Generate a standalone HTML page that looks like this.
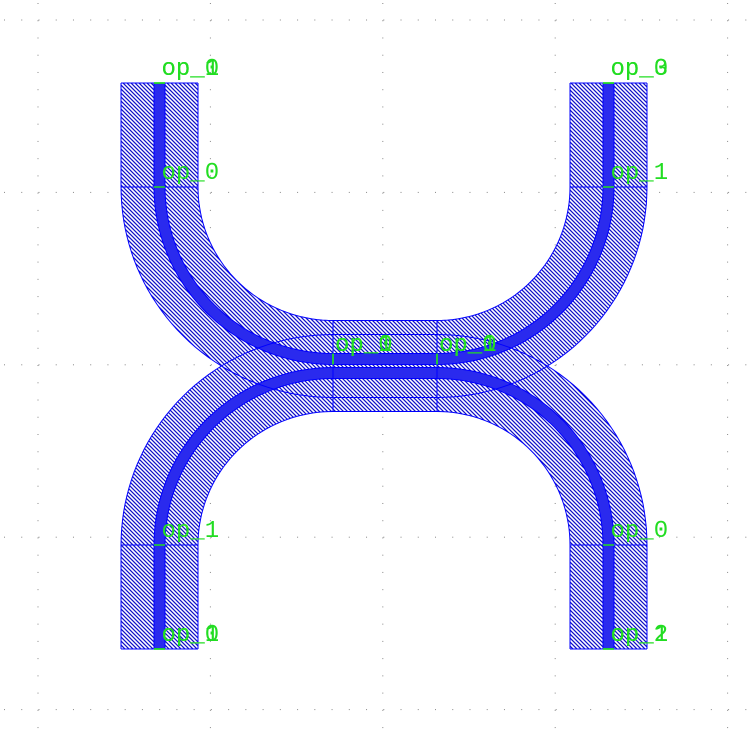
<!DOCTYPE html>
<html><head><meta charset="utf-8"><style>
html,body{margin:0;padding:0;background:#fff;}
svg{display:block;}
text{font-family:"Liberation Mono",monospace;font-size:24px;fill:#22dd22;}
</style></head><body>
<svg id="chart" width="752" height="742" viewBox="0 0 752 742" xmlns="http://www.w3.org/2000/svg">
<defs>
<pattern id="hatch" width="4" height="4" patternUnits="userSpaceOnUse">
<rect width="4" height="4" fill="#fff"/>
<path d="M-1,-1 L5,5 M-1,3 L1,5 M3,-1 L5,1" stroke="#1010c8" stroke-width="1.25"/>
</pattern>
</defs>
<g id="grid"></g>
<g id="clad"></g>
<g id="core"></g>
<g id="lines"></g>
<g id="labels"></g>
</svg>
<script>
const NS="http://www.w3.org/2000/svg";
const xL=159.5, xR=608.5, cx0=333, cx1=437;
const yTop=83, yB1=187, yUp=359, yLo=373, yB2=545, yBot=649;
const hw=38.5, cw=5.5;
const portLabels=[
 [xL,yTop,"op_1"],[xL,yTop,"op_0"],[xL,yB1,"op_0"],
 [xR,yTop,"op_0"],[xR,yTop,"op_3"],[xR,yB1,"op_1"],
 [cx0,yUp,"op_1"],[cx0,yUp,"op_0"],[cx1,yUp,"op_1"],[cx1,yUp,"op_0"],
 [xL,yB2,"op_1"],[xL,yBot,"op_0"],[xL,yBot,"op_1"],
 [xR,yB2,"op_0"],[xR,yBot,"op_1"],[xR,yBot,"op_2"]];
function el(t,a,p){const e=document.createElementNS(NS,t);for(const k in a)e.setAttribute(k,a[k]);p.appendChild(e);return e;}
const grid=document.getElementById('grid');
for(let i=0;i<5;i++){const g=20+172.4*i;
 for(let k=0;k<44;k++){const p=k*17.24;
  el('rect',{x:p+4,y:g-0.5,width:1,height:1,fill:'#888'},grid);
  el('rect',{x:38+172.4*i-0.5,y:p+3,width:1,height:1,fill:'#888'},grid);
 }}
const r=cx0-xL;
const paths=[
 `M${xL},${yTop} L${xL},${yB1} A${r},${yUp-yB1} 0 0 0 ${cx0},${yUp} L${cx1},${yUp} A${xR-cx1},${yUp-yB1} 0 0 0 ${xR},${yB1} L${xR},${yTop}`,
 `M${xL},${yBot} L${xL},${yB2} A${r},${yB2-yLo} 0 0 1 ${cx0},${yLo} L${cx1},${yLo} A${xR-cx1},${yB2-yLo} 0 0 1 ${xR},${yB2} L${xR},${yBot}`];
const clad=document.getElementById('clad'),core=document.getElementById('core'),lines=document.getElementById('lines');
paths.forEach((d,i)=>{
 const c=el('path',{d:d,fill:'none',stroke:'url(#hatch)','stroke-width':77},clad);
 
 
 const k=el('path',{d:d,fill:'none',stroke:'#2a2aee','stroke-width':11},core);
 
 
});
function ol(d){el('path',{d:d,fill:'none',stroke:'#0000ff','stroke-width':1},lines);}
function arc(cx,cy,rx,ry,a0,a1){const n=40;let s='';for(let j=0;j<=n;j++){const a=a0+(a1-a0)*j/n;s+=(j?'L':'M')+(cx+rx*Math.cos(a)).toFixed(1)+','+(cy+ry*Math.sin(a)).toFixed(1);}return s;}
[hw,-hw,cw,-cw].forEach(o=>{
 ol(arc(cx0,yB1,cx0-xL+o,yUp-yB1+o,Math.PI,Math.PI/2));
 ol(arc(cx1,yB1,xR-cx1+o,yUp-yB1+o,Math.PI/2,0));
 ol(arc(cx0,yB2,cx0-xL+o,yB2-yLo+o,Math.PI,1.5*Math.PI));
 ol(arc(cx1,yB2,xR-cx1+o,yB2-yLo+o,1.5*Math.PI,2*Math.PI));
 [xL,xR].forEach(x=>{ol(`M${x+o},${yTop}L${x+o},${yB1}`);ol(`M${x+o},${yB2}L${x+o},${yBot}`);});
 ol(`M${cx0},${yUp+o}L${cx1},${yUp+o}`);ol(`M${cx0},${yLo+o}L${cx1},${yLo+o}`);
});
[xL,xR].forEach(x=>{[yTop,yB1,yB2,yBot].forEach(y=>ol(`M${x-hw},${y}L${x+hw},${y}`));});
[cx0,cx1].forEach(x=>ol(`M${x},${yUp-hw}L${x},${yLo+hw}`));
const lab=document.getElementById('labels');
portLabels.forEach(p=>{
 const horiz=(p[0]===cx0||p[0]===cx1);
 const m=horiz?el('path',{d:`M${p[0]},${p[1]-cw}L${p[0]},${p[1]+cw}`,stroke:'#22dd22','stroke-width':1.5},lab)
  :el('path',{d:`M${p[0]-cw},${p[1]}L${p[0]+cw},${p[1]}`,stroke:'#22dd22','stroke-width':1.5},lab);
 
 
 const t=el('text',{x:p[0]+2,y:p[1]-8},lab);t.textContent=p[2];
 
 
});
</script>
</body></html>
